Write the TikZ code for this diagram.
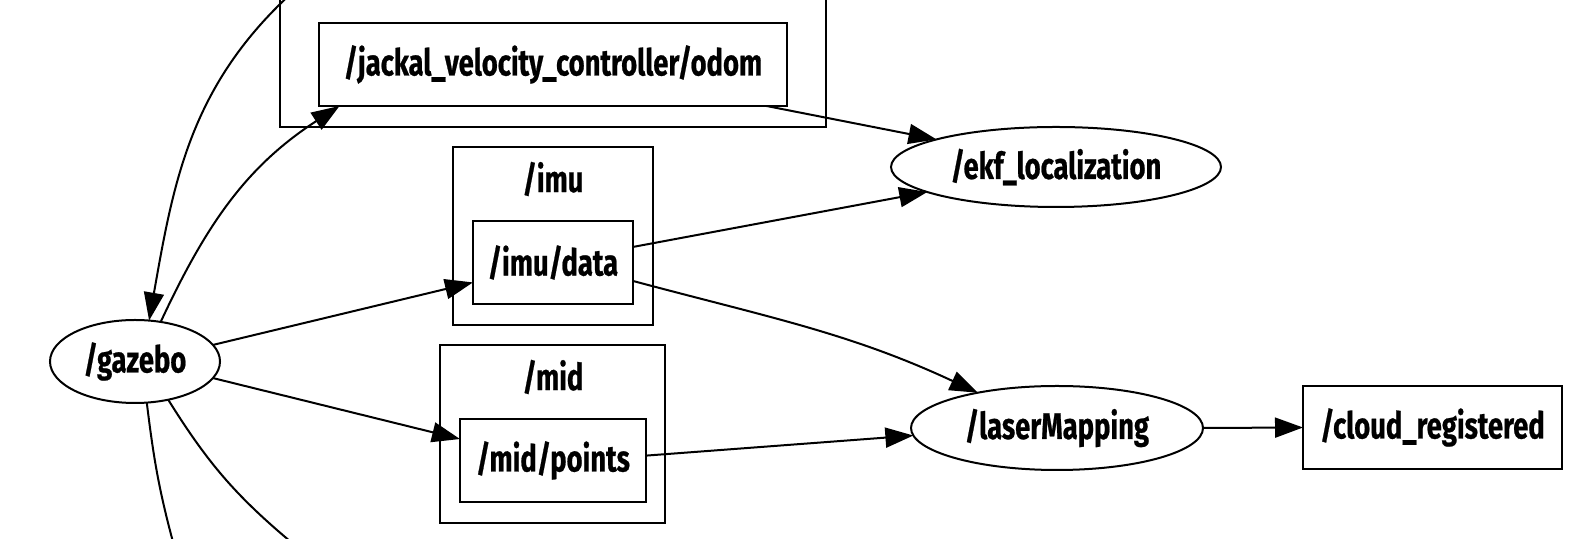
\documentclass[tikz,border=0pt]{standalone}
\usepackage{fontspec}
\setmainfont{Fira Sans}[FakeStretch=0.74, BoldFeatures={FakeBold=0.6}]
\usetikzlibrary{arrows.meta,shapes.geometric}

\begin{document}
\begin{tikzpicture}[x=0.5pt, y=0.5pt, font=\fontsize{18.5pt}{20pt}\selectfont\bfseries, line width=1pt]
\tikzstyle{topic}=[draw, rectangle, inner sep=0pt, outer sep=0pt, minimum height=41.5pt]
\tikzstyle{grp}=[draw, rectangle, inner sep=0pt, outer sep=0pt]
\tikzstyle{rosnode}=[draw, ellipse, inner sep=0pt, outer sep=0pt]
\tikzstyle{edge}=[-{Triangle[length=14pt, width=10pt]}]
\useasboundingbox (0,0) rectangle (1572,539);
\clip (0,0) rectangle (1572,539);
% groups of topics
\node[grp, minimum width=273pt, minimum height=93.5pt] (jackalgrp) at (553,505.5) {};
\node[grp, minimum width=100pt, minimum height=89pt] (imugrp) at (553,303) {};
\node[grp, minimum width=112.5pt, minimum height=89pt] (midgrp) at (552.5,105) {};
\node (imulbl) at (553,360) {/imu};
\node (midlbl) at (553,162) {/mid};
% topics
\node[topic, minimum width=234pt] (odom) at (553,474.5) {/jackal\_velocity\_controller/odom};
\node[topic, minimum width=80pt] (imudata) at (553,276.5) {/imu/data};
\node[topic, minimum width=93pt] (midpts) at (553,78.5) {/mid/points};
\node[topic, minimum width=129.5pt] (cloud) at (1432.5,111.5) {/cloud\_registered};
% ros nodes
\node[rosnode, minimum width=85pt, minimum height=41.5pt] (gazebo) at (135,177.5) {/gazebo};
\node[rosnode, minimum width=165pt, minimum height=40pt] (ekf) at (1056,372) {/ekf\_localization};
\node[rosnode, minimum width=146pt, minimum height=42pt] (laser) at (1057,111) {/laserMapping};
% ends outside the frame
\coordinate (gztop) at (295,549);
\coordinate (gzbota) at (173,-3);
\coordinate (gzbotb) at (291,-3);
% connectors
\draw[edge] (gztop) to[out=222, in=80] (gazebo.71);
\draw[edge] (gazebo.57) to[out=65, in=213] (odom.-169.5);
\draw[edge] (gazebo.12) -- (imudata.-166.3);
\draw[edge] (gazebo.-12) -- (midpts.167.6);
\draw (gazebo.-74) to[out=-83, in=105] (gzbota);
\draw (gazebo.-49) to[out=-58, in=140] (gzbotb);
\draw[edge] (odom.-11.1) -- (ekf.167.5);
\draw[edge] (imudata.11.7) -- (ekf.-169);
\draw[edge] (imudata.-13.7) to[out=-15, in=155] (laser.156.3);
\draw[edge] (midpts.3.4) -- (laser.-177);
\draw[edge] (laser.east) -- (cloud.west);
\end{tikzpicture}
\end{document}
